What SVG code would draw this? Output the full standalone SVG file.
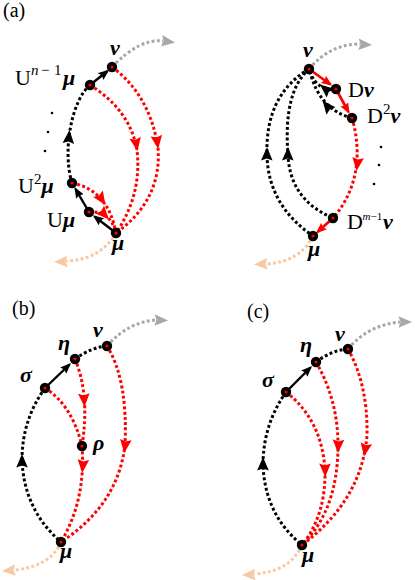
<svg xmlns="http://www.w3.org/2000/svg" xmlns:xlink="http://www.w3.org/1999/xlink" width="415" height="580" viewBox="0 0 415 580">
<style>
.bk{fill:none;stroke:#000;stroke-width:3;stroke-dasharray:2.9 2.4}
.rd{fill:none;stroke:#ff0000;stroke-width:3;stroke-dasharray:2.9 2.4}
.gy{fill:none;stroke:#a8a8a8;stroke-width:3;stroke-dasharray:2.9 2.4}
.pc{fill:none;stroke:#f8c8a2;stroke-width:3;stroke-dasharray:2.9 2.4}
.sb{fill:none;stroke:#000;stroke-width:2.4;marker-end:url(#mk)}
.sr{fill:none;stroke:#ff0000;stroke-width:2.7;marker-end:url(#mkr)}
.hb{fill:#000}.hr{fill:#ff0000}.hg{fill:#a8a8a8}.hp{fill:#f8c8a2}
.node{fill:#ff0000;stroke:#000;stroke-width:3.6}
.m{font-family:"Liberation Serif","DejaVu Serif",serif;font-size:22px;fill:#000}
.g{font-weight:bold;font-style:italic}
.sup{font-size:15px}
.pl{font-family:"Liberation Serif","DejaVu Serif",serif;font-size:20px;fill:#000}
</style>
<defs>
<path id="ah" d="M0,0 L-13.5,-5.8 L-11.5,0 L-13.5,5.8 Z"/>
<marker id="mk" viewBox="0 0 10 8" refX="8" refY="4" markerWidth="11" markerHeight="9" orient="auto" markerUnits="userSpaceOnUse"><path d="M0,0 L10,4 L0,8 L1.5,4 Z" fill="#000"/></marker>
<marker id="mkr" viewBox="0 0 10 8" refX="8" refY="4" markerWidth="11" markerHeight="9" orient="auto" markerUnits="userSpaceOnUse"><path d="M0,0 L10,4 L0,8 L1.5,4 Z" fill="#ff0000"/></marker>
</defs>

<text class="pl" x="3" y="17">(a)</text>
<text class="pl" x="12" y="315">(b)</text>
<text class="pl" x="247" y="318">(c)</text>

<g id="connectors">
<!-- (a) left -->
<path class="gy" d="M112,67 Q140,38 163,41"/>
<use xlink:href="#ah" class="hg" transform="translate(175,42.5) rotate(7)"/>
<path class="bk" d="M90,85 C72,100 62,150 72,183"/>
<use xlink:href="#ah" class="hb" transform="translate(69.5,130) rotate(-85)"/>
<path class="rd" d="M90,85 Q130,110 137,150 Q142,195 116,233"/>
<use xlink:href="#ah" class="hr" transform="translate(137.5,151) rotate(80)"/>
<path class="rd" d="M112,67 Q150,95 158,148 Q162,200 116,233"/>
<use xlink:href="#ah" class="hr" transform="translate(158.2,149) rotate(82)"/>
<path class="sb" d="M90,85 L107.5,71"/>
<path class="rd" d="M72,183 Q108,190 116,233"/>
<use xlink:href="#ah" class="hr" transform="translate(105.5,205) rotate(56)"/>
<path class="rd" d="M89,212 Q110,210 116,233"/>
<use xlink:href="#ah" class="hr" transform="translate(109,219.5) rotate(47)"/>
<path class="sb" d="M116,233 L94.5,216.5"/>
<path class="sb" d="M89,212 L75.5,189"/>
<path class="pc" d="M116,233 Q100,260 66,261"/>
<use xlink:href="#ah" class="hp" transform="translate(54,262) rotate(178)"/>

<!-- (a) right -->
<path class="gy" d="M309,69 Q330,44 360,44"/>
<use xlink:href="#ah" class="hg" transform="translate(372,45) rotate(3)"/>
<path class="bk" d="M336,89 Q318,92 310,72"/>
<use xlink:href="#ah" class="hb" transform="translate(320,84.5) rotate(-140)"/>
<path class="bk" d="M352,118 Q320,110 310,72"/>
<use xlink:href="#ah" class="hb" transform="translate(322.5,100.5) rotate(-129)"/>
<path class="sr" d="M309,69 L330.5,84.5"/>
<path class="sr" d="M336,89 L348.5,112"/>
<path class="bk" d="M309,69 Q265,95 267,155 Q268,205 313,236"/>
<use xlink:href="#ah" class="hb" transform="translate(267,147) rotate(-89)"/>
<path class="bk" d="M309,69 Q283,92 288,155 Q290,200 333,218"/>
<use xlink:href="#ah" class="hb" transform="translate(288,147) rotate(-89)"/>
<path class="rd" d="M352,118 C360,145 362,185 333,218"/>
<use xlink:href="#ah" class="hr" transform="translate(356.5,171) rotate(97)"/>
<path class="sr" d="M333,218 L317.5,232"/>
<path class="pc" d="M313,236 Q300,262 266,264"/>
<use xlink:href="#ah" class="hp" transform="translate(254,264.5) rotate(177)"/>

<!-- (b) -->
<path class="gy" d="M107,346 Q128,322 156,320"/>
<use xlink:href="#ah" class="hg" transform="translate(168,320.5) rotate(2)"/>
<path class="bk" d="M75,359 Q92,347 107,346"/>
<path class="bk" d="M45,388 Q22,420 22,460 Q24,510 61,542"/>
<use xlink:href="#ah" class="hb" transform="translate(22,454) rotate(-90)"/>
<path class="rd" d="M45,388 Q72,405 82,446"/>
<path class="rd" d="M75,359 Q90,395 82,446"/>
<use xlink:href="#ah" class="hr" transform="translate(84.5,407) rotate(87)"/>
<path class="rd" d="M82,446 Q86,500 61,542"/>
<use xlink:href="#ah" class="hr" transform="translate(82.2,473) rotate(95)"/>
<path class="rd" d="M107,346 Q128,380 125,445 Q118,505 61,542"/>
<use xlink:href="#ah" class="hr" transform="translate(124.2,453) rotate(97)"/>
<path class="sb" d="M45,388 L69.5,364.5"/>
<path class="pc" d="M61,542 Q50,567 14,570"/>
<use xlink:href="#ah" class="hp" transform="translate(2,571) rotate(176)"/>

<!-- (c) -->
<path class="gy" d="M348,349 Q368,325 400,322"/>
<use xlink:href="#ah" class="hg" transform="translate(412,322) rotate(0)"/>
<path class="bk" d="M316,362 Q332,350 348,349"/>
<path class="bk" d="M286,392 Q263,425 263,465 Q265,515 302,545"/>
<use xlink:href="#ah" class="hb" transform="translate(263,457) rotate(-90)"/>
<path class="rd" d="M286,392 Q322,420 325,470 Q326,515 302,545"/>
<use xlink:href="#ah" class="hr" transform="translate(325.2,477) rotate(89)"/>
<path class="rd" d="M316,362 Q338,400 338,445 Q338,510 302,545"/>
<use xlink:href="#ah" class="hr" transform="translate(338,453) rotate(92)"/>
<path class="rd" d="M348,349 Q368,385 367,435 Q362,500 302,545"/>
<use xlink:href="#ah" class="hr" transform="translate(364,456.5) rotate(100)"/>
<path class="sb" d="M286,392 L310.5,367.5"/>
<path class="pc" d="M302,545 Q290,572 254,574"/>
<use xlink:href="#ah" class="hp" transform="translate(242,575) rotate(178)"/>
</g>

<g id="ellipsis-a-left">
<circle cx="52" cy="113" r="1.3"/><circle cx="48" cy="132" r="1.3"/><circle cx="45" cy="151" r="1.3"/>
</g>
<g id="ellipsis-a-right">
<circle cx="381" cy="147" r="1.3"/><circle cx="379" cy="165" r="1.3"/><circle cx="374" cy="184" r="1.3"/>
</g>

<!-- (a) left nodes -->
<g id="a1-nu"><circle class="node" cx="112" cy="67" r="3.4"/><text class="m g" x="110" y="55">ν</text></g>
<g id="a1-un1mu"><circle class="node" cx="90" cy="85" r="3.4"/><text class="m" x="15" y="85">U<tspan class="sup" font-style="italic" x="31" dy="-10">n</tspan><tspan class="sup" x="41">−</tspan><tspan class="sup" x="54">1</tspan><tspan class="g" x="63" dy="10">μ</tspan></text></g>
<g id="a1-u2mu"><circle class="node" cx="72" cy="183" r="3.4"/><text class="m" x="18" y="193">U<tspan class="sup" dy="-9">2</tspan><tspan class="g" dy="9">μ</tspan></text></g>
<g id="a1-umu"><circle class="node" cx="89" cy="212" r="3.4"/><text class="m" x="47" y="227">U<tspan class="g">μ</tspan></text></g>
<g id="a1-mu"><circle class="node" cx="116" cy="233" r="3.4"/><text class="m g" x="112" y="250">μ</text></g>

<!-- (a) right nodes -->
<g id="a2-nu"><circle class="node" cx="309" cy="69" r="3.4"/><text class="m g" x="303" y="57">ν</text></g>
<g id="a2-dnu"><circle class="node" cx="336" cy="89" r="3.4"/><text class="m" x="348" y="97">D<tspan class="g">ν</tspan></text></g>
<g id="a2-d2nu"><circle class="node" cx="352" cy="118" r="3.4"/><text class="m" x="367" y="123">D<tspan class="sup" dy="-9">2</tspan><tspan class="g" dy="9">ν</tspan></text></g>
<g id="a2-dm1nu"><circle class="node" cx="333" cy="218" r="3.4"/><text class="m" x="347" y="229">D<tspan font-size="11" font-style="italic" x="362.5" dy="-9">m</tspan><tspan font-size="11">−1</tspan><tspan class="g" x="383" dy="9">ν</tspan></text></g>
<g id="a2-mu"><circle class="node" cx="313" cy="236" r="3.4"/><text class="m g" x="308" y="256">μ</text></g>

<!-- (b) nodes -->
<g id="b-sigma"><circle class="node" cx="45" cy="388" r="3.4"/><text class="m g" x="20" y="382">σ</text></g>
<g id="b-eta"><circle class="node" cx="75" cy="359" r="3.4"/><text class="m g" x="58" y="350">η</text></g>
<g id="b-nu"><circle class="node" cx="107" cy="346" r="3.4"/><text class="m g" x="93" y="337">ν</text></g>
<g id="b-rho"><circle class="node" cx="82" cy="446" r="3.4"/><text class="m g" x="93" y="450">ρ</text></g>
<g id="b-mu"><circle class="node" cx="61" cy="542" r="3.4"/><text class="m g" x="60" y="558">μ</text></g>

<!-- (c) nodes -->
<g id="c-sigma"><circle class="node" cx="286" cy="392" r="3.4"/><text class="m g" x="262" y="387">σ</text></g>
<g id="c-eta"><circle class="node" cx="316" cy="362" r="3.4"/><text class="m g" x="300" y="352">η</text></g>
<g id="c-nu"><circle class="node" cx="348" cy="349" r="3.4"/><text class="m g" x="335" y="341">ν</text></g>
<g id="c-mu"><circle class="node" cx="302" cy="545" r="3.4"/><text class="m g" x="302" y="562">μ</text></g>
</svg>
